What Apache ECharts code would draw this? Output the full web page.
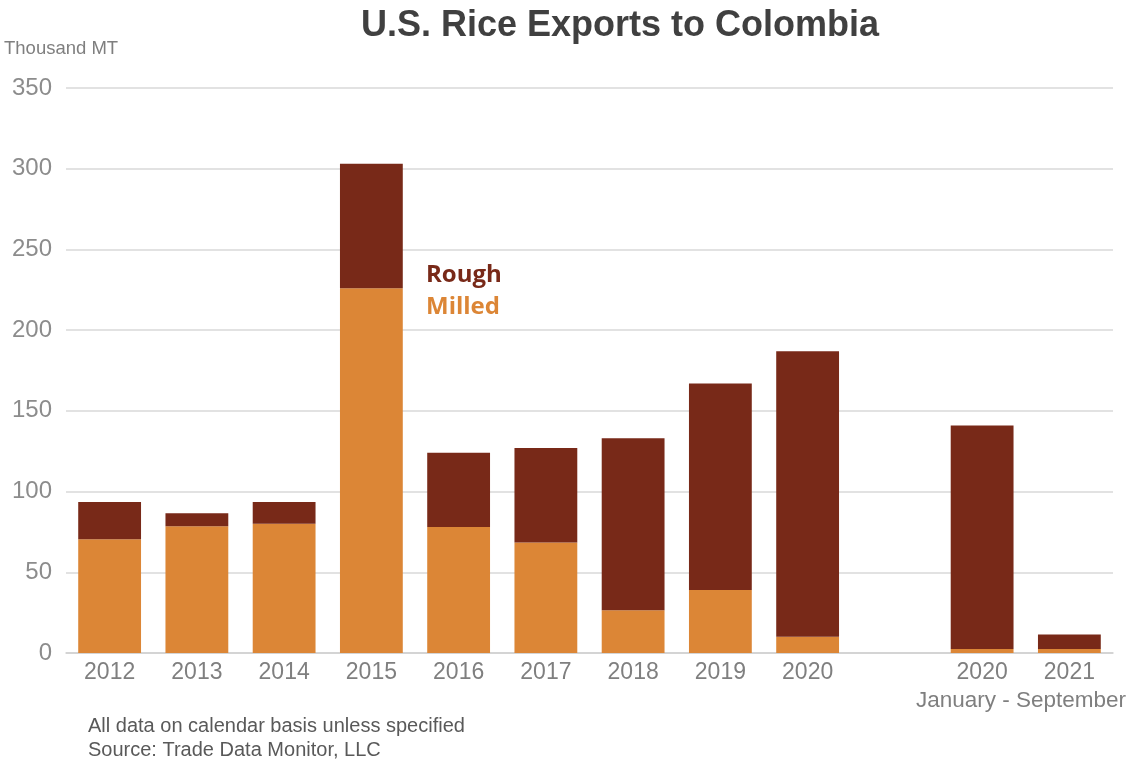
<!DOCTYPE html>
<html>
<head>
<meta charset="utf-8">
<script src="https://cdn.jsdelivr.net/npm/echarts@6/dist/echarts.min.js"></script>
<style>
  html, body { margin: 0; padding: 0; background: #fff; }
  #chart { width: 1129px; height: 762px; }
</style>
</head>
<body>
<div id="chart"></div>
<script>
// an empty slot separates the calendar years from the Jan-Sep comparison
const years = ["2012", "2013", "2014", "2015", "2016", "2017", "2018", "2019", "2020", "", "2020", "2021"];
const milled = [70.5, 78.5, 80, 226, 78, 68.5, 26.5, 39, 10, null, 2.5, 2.5];
const rough = [23, 8, 13.5, 77, 46, 58.5, 106.5, 128, 177, null, 138.5, 9];
const yTicks = [0, 50, 100, 150, 200, 250, 300, 350];

const chart = echarts.init(document.getElementById("chart"));

chart.setOption({
  animation: false,
  title: {
    text: "U.S. Rice Exports to Colombia",
    left: 615,
    top: 3,
    textAlign: "center",
    textStyle: {
      fontFamily: "Liberation Sans",
      fontSize: 36,
      fontWeight: "bold",
      color: "#404040",
    },
  },
  grid: { left: 66, right: 16, top: 88, bottom: 109 },
  xAxis: {
    type: "category",
    data: years,
    axisTick: { show: false },
    axisLine: { lineStyle: { color: "#d0d0d0", width: 1.5 } },
    axisLabel: {
      fontFamily: "Liberation Sans",
      fontSize: 23,
      color: "#7f7f7f",
      margin: 8,
    },
  },
  yAxis: {
    type: "value",
    min: yTicks[0],
    max: yTicks[yTicks.length - 1],
    interval: 50,
    axisLine: { show: false },
    axisTick: { show: false },
    splitLine: { lineStyle: { color: "#d9d9d9", width: 1.5 } },
    axisLabel: {
      fontFamily: "Liberation Sans",
      fontSize: 24,
      color: "#8c8c8c",
      margin: 14,
    },
  },
  series: [
    {
      name: "Milled",
      type: "bar",
      stack: "total",
      data: milled,
      barCategoryGap: "28%",
      itemStyle: { color: "#dc8636" },
    },
    {
      name: "Rough",
      type: "bar",
      stack: "total",
      data: rough,
      itemStyle: { color: "#782918" },
    },
  ],
  graphic: [
    {
      type: "text",
      left: 4,
      top: 39,
      style: { text: "Thousand MT", font: "18.5px 'Liberation Sans'", fill: "#7f7f7f" },
    },
    {
      type: "text",
      left: 426,
      top: 263,
      style: { text: "Rough", font: "bold 24px 'Open Sans'", fill: "#782918" },
    },
    {
      type: "text",
      left: 426,
      top: 295,
      style: { text: "Milled", font: "bold 24px 'Open Sans'", fill: "#dc8636" },
    },
    {
      type: "text",
      left: 916,
      top: 689,
      style: { text: "January - September", font: "22.5px 'Liberation Sans'", fill: "#7f7f7f" },
    },
    {
      type: "text",
      left: 88,
      top: 714,
      style: {
        text: "All data on calendar basis unless specified\nSource: Trade Data Monitor, LLC",
        font: "20px 'Liberation Sans'",
        lineHeight: 24,
        fill: "#595959",
      },
    },
  ],
});
</script>
</body>
</html>
